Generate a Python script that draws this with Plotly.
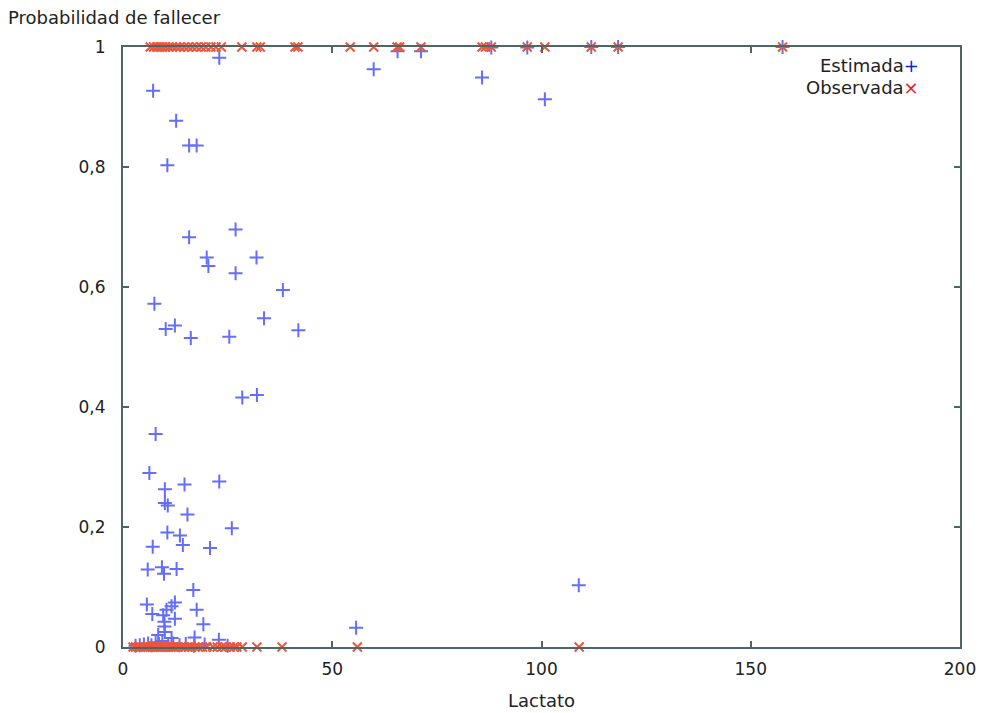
import plotly.graph_objects as go

# Estimated probability (blue +)
est_x = [23.0, 7.2, 12.7, 15.8, 17.6, 10.6, 15.8, 26.9, 20.0, 20.4, 31.9, 26.9, 38.2, 7.5,
         10.2, 12.4, 16.2, 25.4, 33.7, 41.9, 28.5, 32.0, 7.8, 6.3, 10.0, 14.7, 23.0, 10.0,
         10.7, 15.4, 10.6, 13.6, 26.0, 14.3, 7.1, 20.8, 5.9, 9.3, 9.8, 12.8, 16.8, 5.7,
         12.4, 11.6, 17.6, 10.4, 7.0, 9.6, 12.4, 19.2, 9.9, 9.9, 10.0, 17.1, 22.9, 8.4,
         11.6, 3.0, 4.0, 5.0, 6.0, 6.8, 7.8, 8.6, 9.4, 10.8, 12.0, 13.5, 15.0, 17.0, 19.5,
         25.0, 55.7, 59.9, 65.6, 71.2, 85.8, 100.8, 108.9, 88.0, 96.6, 111.9, 118.3, 157.6]
est_y = [0.982, 0.927, 0.877, 0.836, 0.836, 0.803, 0.683, 0.696, 0.649, 0.635, 0.649, 0.623,
         0.595, 0.572, 0.530, 0.536, 0.515, 0.517, 0.548, 0.528, 0.416, 0.420, 0.355, 0.290,
         0.263, 0.271, 0.276, 0.240, 0.236, 0.221, 0.191, 0.186, 0.198, 0.170, 0.167, 0.165,
         0.129, 0.133, 0.122, 0.130, 0.095, 0.071, 0.074, 0.068, 0.062, 0.062, 0.055, 0.053,
         0.047, 0.038, 0.042, 0.034, 0.025, 0.016, 0.012, 0.020, 0.015, 0.002, 0.003, 0.004,
         0.006, 0.003, 0.008, 0.005, 0.010, 0.004, 0.006, 0.003, 0.005, 0.002, 0.004, 0.002,
         0.032, 0.963, 0.993, 0.993, 0.949, 0.913, 0.103, 0.999, 0.999, 1.0, 1.0, 1.0]

# Observed outcome (red x)
obs_dead_x = [6.5, 7.3, 8.1, 8.8, 9.5, 10.2, 11.0, 11.8, 12.7, 13.6, 14.6, 15.6, 16.6, 17.6,
              18.7, 19.8, 21.0, 22.2, 23.5, 28.4, 32.0, 32.8, 41.1, 41.8, 54.3, 59.9, 65.5,
              66.1, 71.2, 85.8, 86.6, 88.0, 96.6, 100.8, 111.9, 118.3, 157.6]
obs_alive_x = [2.4, 3.0, 3.6, 4.2, 4.8, 5.4, 6.0, 6.5, 7.0, 7.5, 8.0, 8.5, 9.0, 9.5, 10.0,
               10.5, 11.0, 11.5, 12.0, 12.6, 13.2, 14.0, 14.8, 15.6, 16.4, 17.2, 18.0, 19.0,
               20.0, 21.5, 22.5, 23.6, 24.5, 25.6, 26.5, 27.2, 28.5, 32.0, 38.0, 56.0, 109.0]
obs_x = obs_dead_x + obs_alive_x
obs_y = [1] * len(obs_dead_x) + [0] * len(obs_alive_x)

x_ticks = [0, 50, 100, 150, 200]
y_ticks = [0, 0.2, 0.4, 0.6, 0.8, 1]
y_labels = ["0", "0,2", "0,4", "0,6", "0,8", "1"]

FONT = "DejaVu Sans"
FRAME = "#4d6666"
BLUE = "rgb(10,35,215)"
RED = "rgb(235,30,30)"

fig = go.Figure()
fig.add_trace(go.Scatter(
    x=est_x, y=est_y, mode="markers", name="Estimada", cliponaxis=False,
    marker=dict(symbol="cross-thin-open", size=10, line=dict(color=BLUE, width=2)),
))
fig.add_trace(go.Scatter(
    x=obs_x, y=obs_y, mode="markers", name="Observada", cliponaxis=False,
    marker=dict(symbol="x-thin-open", size=9, line=dict(color="rgba(235,30,30,0.85)", width=2)),
))

axis_common = dict(
    showline=True, mirror="allticks", linecolor=FRAME, linewidth=2,
    ticks="inside", ticklen=6, tickwidth=1.5, tickcolor=FRAME,
    showgrid=False, zeroline=False,
    tickfont=dict(family=FONT, size=17, color="#222"),
)

fig.update_xaxes(range=[0, 200], tickvals=x_ticks, ticklabelstandoff=6,
                 title=dict(text="Lactato", font=dict(family=FONT, size=18, color="#222"), standoff=16),
                 **axis_common)
fig.update_yaxes(range=[0, 1], tickvals=y_ticks, ticktext=y_labels, ticklabelstandoff=12,
                 **axis_common)

fig.add_annotation(xref="paper", yref="paper", x=0.953, y=0.970, xanchor="right", yanchor="middle",
                   showarrow=False, font=dict(family=FONT, size=18, color="#222"),
                   text=f"Estimada<span style='color:{BLUE}'>+</span>")
fig.add_annotation(xref="paper", yref="paper", x=0.953, y=0.933, xanchor="right", yanchor="middle",
                   showarrow=False, font=dict(family=FONT, size=18, color="#222"),
                   text=f"Observada<span style='color:{RED}'>×</span>")

fig.update_layout(
    width=984, height=713,
    margin=dict(l=115, r=32, t=39, b=74),
    paper_bgcolor="white", plot_bgcolor="white",
    showlegend=False,
    title=dict(text="Probabilidad de fallecer", x=0.0, xanchor="left", xref="container",
               y=1 - 10 / 713, yanchor="middle", yref="container",
               font=dict(family=FONT, size=18, color="#222")),
)

fig.write_html("out.html")
